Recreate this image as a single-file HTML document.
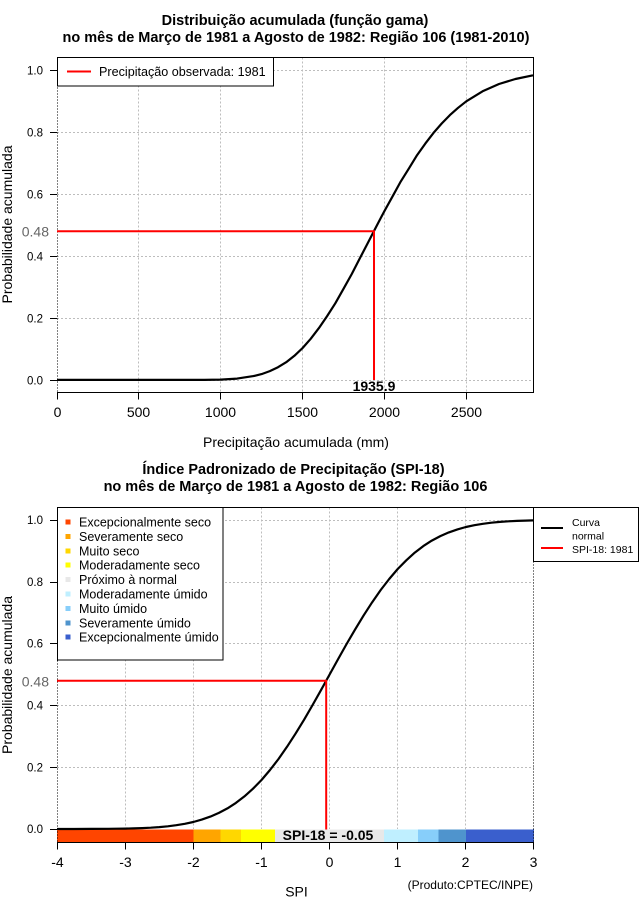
<!DOCTYPE html>
<html>
<head>
<meta charset="utf-8">
<style>
html,body{margin:0;padding:0;background:#fff;}
svg{display:block;}
text{font-family:"Liberation Sans",Arial,sans-serif;fill:#000;}
.t{font-size:14.5px;font-weight:bold;}
.tk{font-size:11.5px;}
.tx{font-size:14px;}
.g{stroke:#bdbdbd;stroke-width:1;stroke-dasharray:2,2;fill:none;}
.k{stroke:#000;stroke-width:1;fill:none;}
.kd{stroke:#000;stroke-width:1;stroke-dasharray:1,2;fill:none;}
.lg{font-size:12.5px;}
</style>
</head>
<body>
<svg width="640" height="900" viewBox="0 0 640 900" xmlns="http://www.w3.org/2000/svg">
<rect x="0" y="0" width="640" height="900" fill="#fff"/>

<!-- ================= TOP PLOT ================= -->
<text class="t" x="295" y="25" text-anchor="middle">Distribuição acumulada (função gama)</text>
<text class="t" x="296" y="42" text-anchor="middle">no mês de Março de 1981 a Agosto de 1982: Região 106 (1981-2010)</text>

<g shape-rendering="crispEdges">
<!-- grid -->
<path class="g" d="M138.5,57.5V392.5M220.5,57.5V392.5M302.5,57.5V392.5M384.5,57.5V392.5M466.5,57.5V392.5"/>
<path class="g" d="M57,70.5H534M57,132.5H534M57,194.5H534M57,256.5H534M57,318.5H534M57,380.5H534"/>
<!-- box -->
<path class="k" d="M57,57.5H534M533.5,57V393M57,392.5H534"/>
<path class="kd" d="M57.5,57.5V392.5"/>
<!-- y ticks -->
<path class="k" d="M50,70.5H57M50,132.5H57M50,194.5H57M50,256.5H57M50,318.5H57M50,380.5H57"/>
<!-- x ticks -->
<path class="k" d="M57.5,392.5V399.5M138.5,392.5V399.5M220.5,392.5V399.5M302.5,392.5V399.5M384.5,392.5V399.5M466.5,392.5V399.5"/>
</g>

<!-- curve -->
<polyline fill="none" stroke="#000" stroke-width="2.2" stroke-linejoin="round" points="57,379.9 204.3,379.9 220.7,379.6 237.1,378.6 253.4,376.1 261.6,374.1 269.8,371.1 278.0,367.2 286.2,362.2 294.4,355.8 302.6,348.0 310.7,338.8 318.9,328.1 327.1,316.1 335.3,303.3 343.5,288.8 351.7,274.1 359.8,258.4 368.0,242.6 376.2,226.7 384.4,211.1 392.6,196.3 400.8,181.4 409.0,168.3 417.1,155.1 425.3,143.6 433.5,132.9 441.7,123.5 449.9,115.1 458.1,107.8 466.3,101.3 482.6,91.3 499.0,84.0 515.4,79.0 533,75.3"/>

<!-- red lines -->
<path d="M57,231.2H374V380" fill="none" stroke="#ff0000" stroke-width="2"/>
<text x="374" y="391" text-anchor="middle" style="font-size:14px;font-weight:bold;">1935.9</text>

<!-- legend -->
<rect x="57.5" y="57.5" width="216" height="28.5" fill="#fff" stroke="#000" stroke-width="1" shape-rendering="crispEdges"/>
<line x1="67" y1="71.5" x2="91" y2="71.5" stroke="#ff0000" stroke-width="2"/>
<text x="99" y="76" style="font-size:12.6px;">Precipitação observada: 1981</text>

<!-- y tick labels -->
<g class="tk" text-anchor="end">
<text x="43" y="74.5">1.0</text>
<text x="43" y="136.5">0.8</text>
<text x="43" y="198.5">0.6</text>
<text x="43" y="260.5">0.4</text>
<text x="43" y="322.5">0.2</text>
<text x="43" y="384.5">0.0</text>
</g>
<text x="49" y="236.5" text-anchor="end" style="font-size:14px;fill:#666;">0.48</text>

<!-- x tick labels -->
<g class="tx" text-anchor="middle">
<text x="57.5" y="417">0</text>
<text x="138.5" y="417">500</text>
<text x="220.5" y="417">1000</text>
<text x="302.5" y="417">1500</text>
<text x="384.5" y="417">2000</text>
<text x="466.5" y="417">2500</text>
</g>
<text class="tx" x="296" y="447" text-anchor="middle">Precipitação acumulada (mm)</text>
<text class="tx" transform="translate(12,224.5) rotate(-90)" text-anchor="middle">Probabilidade acumulada</text>

<!-- ================= BOTTOM PLOT ================= -->
<text class="t" x="293.5" y="474" text-anchor="middle">Índice Padronizado de Precipitação (SPI-18)</text>
<text class="t" x="295.5" y="491" text-anchor="middle">no mês de Março de 1981 a Agosto de 1982: Região 106</text>

<g shape-rendering="crispEdges">
<path class="g" d="M125.5,507.5V829M193.5,507.5V829M261.5,507.5V829M329.5,507.5V829M397.5,507.5V829M465.5,507.5V829"/>
<path class="g" d="M57,520.5H534M57,582.5H534M57,643.5H534M57,705.5H534M57,767.5H534"/>
<!-- colour bar -->
<rect x="57" y="829.5" width="136.3" height="12.5" fill="#ff4500"/>
<rect x="193.3" y="829.5" width="27.3" height="12.5" fill="#ffa500"/>
<rect x="220.6" y="829.5" width="20.4" height="12.5" fill="#ffd700"/>
<rect x="241" y="829.5" width="34.1" height="12.5" fill="#ffff00"/>
<rect x="275.1" y="829.5" width="109" height="12.5" fill="#e8e8e8"/>
<rect x="384.1" y="829.5" width="34.1" height="12.5" fill="#bfefff"/>
<rect x="418.2" y="829.5" width="20.4" height="12.5" fill="#87cefa"/>
<rect x="438.6" y="829.5" width="27.3" height="12.5" fill="#4f94cd"/>
<rect x="465.9" y="829.5" width="68.1" height="12.5" fill="#3a5fcd"/>
<!-- box -->
<path class="k" d="M57,507.5H534M57,842.5H534"/>
<path class="kd" d="M57.5,507.5V842M533.5,507.5V842"/>
<path class="k" d="M50,520.5H57M50,582.5H57M50,643.5H57M50,705.5H57M50,767.5H57M50,829.5H57"/>
<path class="k" d="M57.5,842.5V849.5M125.5,842.5V849.5M193.5,842.5V849.5M261.5,842.5V849.5M329.5,842.5V849.5M397.5,842.5V849.5M465.5,842.5V849.5M533.5,842.5V849.5"/>
</g>

<!-- normal curve -->
<polyline fill="none" stroke="#000" stroke-width="2.2" stroke-linejoin="round" points="57,829 74.1,829 91.1,828.9 108.1,828.8 116.7,828.7 125.2,828.6 133.7,828.4 142.2,828.1 150.7,827.7 159.2,827.1 167.8,826.3 176.3,825.2 184.8,823.8 193.3,822.0 201.8,819.6 210.4,816.6 218.9,812.9 227.4,808.4 235.9,802.9 244.4,796.4 253.0,788.7 261.5,780.0 270.0,770.0 278.5,759.0 287.0,746.8 295.5,733.7 304.1,719.7 312.6,705.0 321.1,689.9 329.6,674.5 338.1,659.1 346.6,644.0 355.2,629.3 363.7,615.3 372.2,602.2 380.7,590.0 389.2,579.0 397.7,569.0 406.3,560.3 414.8,552.6 423.3,546.1 431.8,540.6 440.3,536.1 448.8,532.4 457.4,529.4 465.9,527.0 474.4,525.2 482.9,523.8 491.4,522.7 500.0,521.9 508.5,521.3 517.0,520.9 525.5,520.6 533,520.4"/>

<!-- red lines -->
<path d="M57,680.7H326.2V829.5" fill="none" stroke="#ff0000" stroke-width="2"/>
<text x="328" y="840" text-anchor="middle" style="font-size:14px;font-weight:bold;">SPI-18 = -0.05</text>

<!-- left legend -->
<rect x="57.5" y="507.5" width="165.5" height="152.5" fill="#fff" stroke="#000" stroke-width="1" shape-rendering="crispEdges"/>
<g shape-rendering="crispEdges">
<rect x="65.5" y="519.5" width="5" height="5" fill="#ff4500"/>
<rect x="65.5" y="533.9" width="5" height="5" fill="#ffa500"/>
<rect x="65.5" y="548.3" width="5" height="5" fill="#ffd700"/>
<rect x="65.5" y="562.7" width="5" height="5" fill="#ffff00"/>
<rect x="65.5" y="577.1" width="5" height="5" fill="#e8e8e8"/>
<rect x="65.5" y="591.5" width="5" height="5" fill="#bfefff"/>
<rect x="65.5" y="605.9" width="5" height="5" fill="#87cefa"/>
<rect x="65.5" y="620.3" width="5" height="5" fill="#4f94cd"/>
<rect x="65.5" y="634.7" width="5" height="5" fill="#3a5fcd"/>
</g>
<g class="lg">
<text x="79" y="526.5">Excepcionalmente seco</text>
<text x="79" y="540.9">Severamente seco</text>
<text x="79" y="555.3">Muito seco</text>
<text x="79" y="569.7">Moderadamente seco</text>
<text x="79" y="584.1">Próximo à normal</text>
<text x="79" y="598.5">Moderadamente úmido</text>
<text x="79" y="612.9">Muito úmido</text>
<text x="79" y="627.3">Severamente úmido</text>
<text x="79" y="641.7">Excepcionalmente úmido</text>
</g>

<!-- right legend -->
<rect x="533.5" y="507.5" width="105" height="54" fill="#fff" stroke="#000" stroke-width="1" shape-rendering="crispEdges"/>
<line x1="541" y1="528" x2="563" y2="528" stroke="#000" stroke-width="2"/>
<line x1="541" y1="548" x2="563" y2="548" stroke="#ff0000" stroke-width="2"/>
<g style="font-size:10.5px;">
<text x="572" y="526">Curva</text>
<text x="572" y="539.5">normal</text>
<text x="572" y="553">SPI-18: 1981</text>
</g>

<!-- y labels -->
<g class="tk" text-anchor="end">
<text x="43" y="524">1.0</text>
<text x="43" y="586">0.8</text>
<text x="43" y="647.5">0.6</text>
<text x="43" y="709.5">0.4</text>
<text x="43" y="771.5">0.2</text>
<text x="43" y="833">0.0</text>
</g>
<text x="49" y="686.5" text-anchor="end" style="font-size:14px;fill:#666;">0.48</text>

<!-- x labels -->
<g class="tx" text-anchor="middle">
<text x="57.5" y="867">-4</text>
<text x="125.5" y="867">-3</text>
<text x="193.5" y="867">-2</text>
<text x="261.5" y="867">-1</text>
<text x="329.5" y="867">0</text>
<text x="397.5" y="867">1</text>
<text x="465.5" y="867">2</text>
<text x="533.5" y="867">3</text>
</g>
<text class="tx" x="296.5" y="896.5" text-anchor="middle">SPI</text>
<text x="533" y="889" text-anchor="end" style="font-size:12px;">(Produto:CPTEC/INPE)</text>
<text class="tx" transform="translate(12,675) rotate(-90)" text-anchor="middle">Probabilidade acumulada</text>
</svg>
</body>
</html>
